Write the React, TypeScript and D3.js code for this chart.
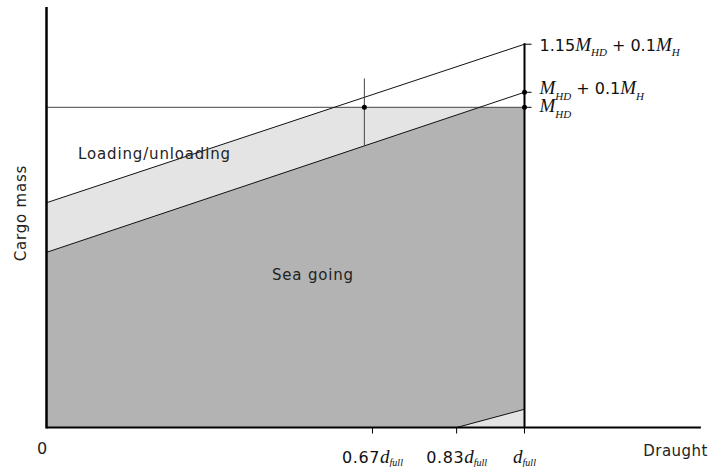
import React from "react";
import * as d3 from "d3";

// ---- data (in units of d_full on x, M_HD on y) ----
const xMax = 1.369;
const upperLine = [0.702, 1.197]; // 1.15 M_HD + 0.1 M_H line, at x=0 and x=1
const lowerLine = [0.547, 1.047]; // M_HD + 0.1 M_H line
const mhd = 1.0;
const triangle = [[0.858, 0], [1.0, 0.057], [1.0, 0]];
const vLineX = 0.665;
const vLineTop = 1.09;
const xTicks = [0.682, 0.858, 1.0];
const xTickNums = ["0.67", "0.83", ""];
const rightLabels = [
  { y: 1.197, pre: "1.15", sub1: "HD", mid: " + 0.1", sub2: "H", dy: 6.4 },
  { y: 1.047, pre: "", sub1: "HD", mid: " + 0.1", sub2: "H", dy: 1.8 },
  { y: 1.0, pre: "", sub1: "HD", mid: "", sub2: "", dy: 5 },
];

const W = 711, H = 467;
const x = d3.scaleLinear().domain([0, 1]).range([46.5, 524.5]);
const y = d3.scaleLinear().domain([0, 1]).range([427.5, 107.3]);

const lineAt = (l: number[], t: number) => l[0] + (l[1] - l[0]) * t;
const crossAt = (l: number[], v: number) => (v - l[0]) / (l[1] - l[0]);

export default function App() {
  const xu = crossAt(upperLine, mhd);
  const xl = crossAt(lowerLine, mhd);
  const poly = d3.line<number[]>().x((d) => x(d[0])).y((d) => y(d[1]));
  const lightPts = [[0, 0], [0, upperLine[0]], [xu, mhd], [1, mhd], [1, 0]];
  const darkPts = [[0, 0], [0, lowerLine[0]], [xl, mhd], [1, mhd], [1, 0]];
  const sans = "'DejaVu Sans', sans-serif";
  const serif = "'Liberation Serif', 'Times New Roman', serif";
  return (
    <svg width={W} height={H} style={{ display: "block", position: "absolute", left: 0, top: 0 }}>
      <rect width={W} height={H} fill="#fff" />
      <path d={poly(lightPts as any) + "Z"} fill="#e4e4e4" />
      <path d={poly(darkPts as any) + "Z"} fill="#b3b3b3" />
      <path d={poly(triangle as any) + "Z"} fill="#e4e4e4" />
      {/* M_HD horizontal */}
      <line x1={x(0)} x2={x(1)} y1={y(mhd)} y2={y(mhd)} stroke="#444" strokeWidth={1} />
      {/* sloped lines */}
      <line x1={x(0)} y1={y(upperLine[0])} x2={x(1)} y2={y(upperLine[1])} stroke="#111" strokeWidth={1} />
      <line x1={x(0)} y1={y(lowerLine[0])} x2={x(1)} y2={y(lowerLine[1])} stroke="#111" strokeWidth={1} />
      <line x1={x(triangle[0][0])} y1={y(triangle[0][1])} x2={x(triangle[1][0])} y2={y(triangle[1][1])} stroke="#111" strokeWidth={1} />
      {/* vertical at 0.67 d_full */}
      <line x1={x(vLineX)} x2={x(vLineX)} y1={y(vLineTop)} y2={y(lineAt(lowerLine, vLineX))} stroke="#444" strokeWidth={1} />
      <circle cx={x(vLineX)} cy={y(mhd)} r={2.5} fill="#000" />
      {/* right vertical at d_full */}
      <line x1={x(1)} x2={x(1)} y1={y(upperLine[1]) - 1} y2={y(0)} stroke="#000" strokeWidth={2} />
      {rightLabels.map((r, i) => (
        <g key={i}>
          <line x1={x(1)} x2={x(1) + 7} y1={y(r.y)} y2={y(r.y)} stroke="#000" strokeWidth={1} />
          {i > 0 && <circle cx={x(1)} cy={y(r.y)} r={2.5} fill="#000" />}
          <text x={x(1) + 15} y={y(r.y) + r.dy} fontSize={16} fill="#111">
            {r.pre && <tspan fontFamily={sans}>{r.pre}</tspan>}
            <tspan fontFamily={serif} fontStyle="italic" fontSize={19}>M</tspan>
            <tspan fontFamily={serif} fontStyle="italic" fontSize={11} dy={5.5}>{r.sub1}</tspan>
            {r.mid && <tspan fontFamily={sans} dy={-5.5}>{r.mid}</tspan>}
            {r.sub2 && <tspan fontFamily={serif} fontStyle="italic" fontSize={19}>M</tspan>}
            {r.sub2 && <tspan fontFamily={serif} fontStyle="italic" fontSize={11} dy={5.5}>{r.sub2}</tspan>}
          </text>
        </g>
      ))}
      {/* axes */}
      <line x1={x(0)} x2={x(0)} y1={7} y2={y(0) + 1} stroke="#000" strokeWidth={2.5} />
      <line x1={x(0)} x2={x(xMax)} y1={y(0)} y2={y(0)} stroke="#000" strokeWidth={2} />
      {xTicks.map((t, i) => (
        <g key={i}>
          <line x1={x(t)} x2={x(t)} y1={y(0)} y2={y(0) + 6} stroke="#000" strokeWidth={1} />
          <text x={x(t)} y={463} textAnchor="middle" fontSize={16} fill="#111">
            {xTickNums[i] && <tspan fontFamily={sans} letterSpacing={0.6}>{xTickNums[i]}</tspan>}
            <tspan fontFamily={serif} fontStyle="italic" fontSize={19}>d</tspan>
            <tspan fontFamily={serif} fontStyle="italic" fontSize={10} dy={3}>full</tspan>
          </text>
        </g>
      ))}
      <text x={42} y={454} textAnchor="middle" fontFamily={sans} fontSize={16} fill="#222">0</text>
      <text x={708} y={456} textAnchor="end" fontFamily={sans} fontSize={15} fill="#222" letterSpacing={0.5}>Draught</text>
      <text transform={`translate(26,${213}) rotate(-90)`} textAnchor="middle" fontFamily={sans} fontSize={15} fill="#222" letterSpacing={0.8}>Cargo mass</text>
      <text x={78} y={158.5} fontFamily={sans} fontSize={15} fill="#222" letterSpacing={0.85}>Loading/unloading</text>
      <text x={272} y={280} fontFamily={sans} fontSize={15} fill="#222" letterSpacing={0.8}>Sea going</text>
    </svg>
  );
}
